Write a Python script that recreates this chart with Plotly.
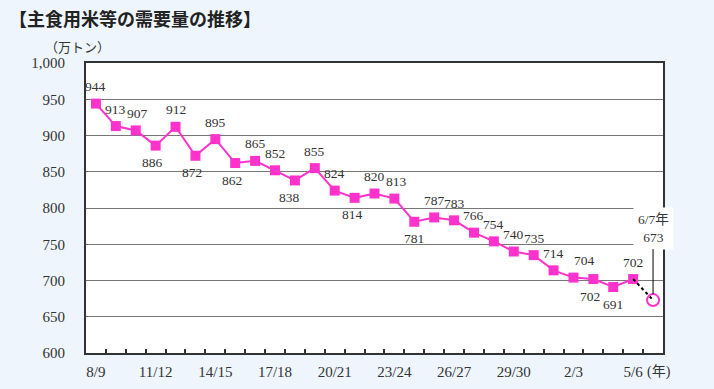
import plotly.graph_objects as go

# ---- data ----
years = ["8/9", "9/10", "10/11", "11/12", "12/13", "13/14", "14/15", "15/16", "16/17",
         "17/18", "18/19", "19/20", "20/21", "21/22", "22/23", "23/24", "24/25", "25/26",
         "26/27", "27/28", "28/29", "29/30", "30/元", "元/2", "2/3", "3/4", "4/5", "5/6"]
demand = [944, 913, 907, 886, 912, 872, 895, 862, 865, 852, 838, 855, 824, 814, 820, 813,
          781, 787, 783, 766, 754, 740, 735, 714, 704, 702, 691, 702]
forecast_year = "6/7"
forecast_value = 673
labeled_years = ["8/9", "11/12", "14/15", "17/18", "20/21", "23/24", "26/27", "29/30", "2/3", "5/6"]
y_ticks = [600, 650, 700, 750, 800, 850, 900, 950, 1000]

# label placement: 1 = above, -1 = below
label_side = [1, 1, 1, -1, 1, -1, 1, -1, 1, 1, -1, 1, 1, -1, 1, 1,
              -1, 1, 1, 1, 1, 1, 1, 1, 1, -1, -1, 1]
label_dx = [0, 0, 2, -3, 0, -3, 0, -3, 0, 0, -5, 0, 0, -2, 0, 2,
            0, 0, 0, 0, 0, 0, 1, 0, 11, -3, 0, 0]

all_years = years + [forecast_year]

PINK = "#FF33CC"
TEXT = "#333333"
SERIF = "Liberation Serif, DejaVu Serif, serif"
CJK = "Noto Sans CJK JP"

fig = go.Figure()

fig.add_trace(go.Scatter(
    x=years, y=demand, mode="lines+markers",
    line=dict(color=PINK, width=2),
    marker=dict(symbol="square", size=10, color=PINK),
    hoverinfo="x+y", showlegend=False))

fig.add_trace(go.Scatter(
    x=[years[-1], forecast_year], y=[demand[-1], forecast_value], mode="lines",
    line=dict(color="#000000", width=2, dash="dot"),
    showlegend=False, hoverinfo="skip"))

fig.add_trace(go.Scatter(
    x=[forecast_year], y=[forecast_value], mode="markers",
    marker=dict(symbol="circle-open", size=12, color=PINK, line=dict(width=2, color=PINK)),
    showlegend=False, hoverinfo="x+y"))

annotations = []
for yr, v, s, dx in zip(years, demand, label_side, label_dx):
    annotations.append(dict(
        x=yr, y=v, xref="x", yref="y", text=str(v), showarrow=False,
        yshift=17 if s > 0 else -17, xshift=dx,
        font=dict(family=SERIF, size=13.5, color=TEXT)))

annotations.append(dict(
    x=forecast_year, y=forecast_value, xref="x", yref="y",
    text=f"{forecast_year}年<br>{forecast_value}", showarrow=True,
    ax=0, ay=-72, arrowhead=0, arrowwidth=1, arrowcolor="#000000", standoff=6,
    bgcolor="#FFFFFF", borderpad=4,
    font=dict(family=SERIF + ", " + CJK, size=13.5, color=TEXT)))

annotations.append(dict(
    x="5/6", y=0, xref="x", yref="paper", text="(年)", showarrow=False,
    xanchor="left", yanchor="middle", xshift=12, yshift=-19,
    font=dict(family=SERIF + ", " + CJK, size=14, color=TEXT)))

annotations.append(dict(
    x=(77 - 86) / 577, y=(353 - 46) / 290, xref="paper", yref="paper",
    text="（万トン）", showarrow=False, xanchor="center", yanchor="middle",
    font=dict(family=CJK, size=13, color=TEXT)))

annotations.append(dict(
    x=(7 - 86) / 577, y=(353 - 18) / 290, xref="paper", yref="paper",
    text="<b>【主食用米等の需要量の推移】</b>", showarrow=False,
    xanchor="left", yanchor="middle",
    font=dict(family=CJK, size=18, color="#222222")))

fig.update_layout(
    width=714, height=389,
    margin=dict(l=86, r=51, t=63, b=36, autoexpand=False),
    paper_bgcolor="#EEF5FC", plot_bgcolor="#FFFFFF",
    annotations=annotations,
    xaxis=dict(
        type="category", categoryorder="array", categoryarray=all_years,
        range=[-0.5, len(all_years) - 0.5], automargin=False,
        tickmode="array", tickvals=all_years, tickangle=0,
        ticktext=[y if y in labeled_years else "" for y in all_years],
        tickson="boundaries", ticks="inside", ticklen=4, tickwidth=1.5, tickcolor="#333333",
        showgrid=False, showline=True, linecolor="#333333", linewidth=2, mirror=True,
        tickfont=dict(family=SERIF, size=15, color=TEXT), ticklabelstandoff=4,
        fixedrange=True),
    yaxis=dict(
        range=[600, 1000], tickmode="array", tickvals=y_ticks, tickformat=",",
        automargin=False,
        showgrid=True, gridcolor="#777777", gridwidth=1,
        showline=True, linecolor="#333333", linewidth=2, mirror=True,
        ticks="", tickfont=dict(family=SERIF, size=15, color=TEXT),
        ticklabelstandoff=16, zeroline=False, fixedrange=True),
)

fig.write_html("out.html", config={"displayModeBar": False},
               post_script="document.body.style.margin='0';document.body.style.padding='0';")
